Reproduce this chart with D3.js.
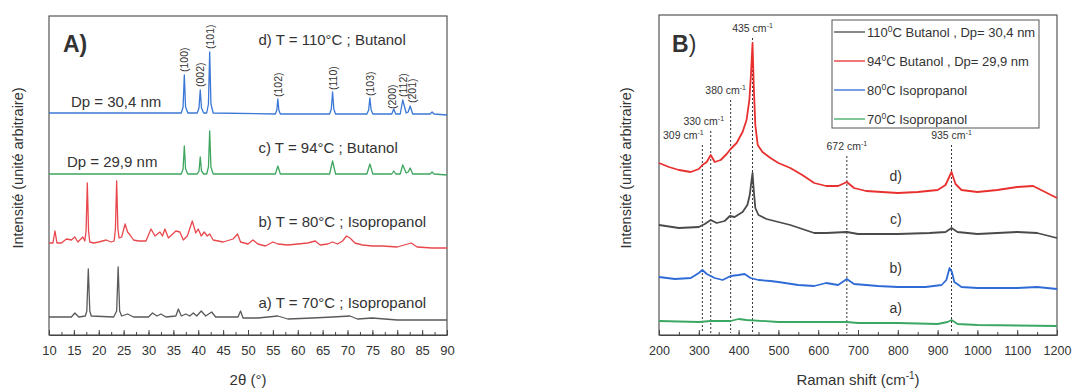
<!DOCTYPE html>
<html>
<head>
<meta charset="utf-8">
<script src="https://cdn.jsdelivr.net/npm/d3@7"></script>
<style>
  body { margin: 0; background: #fff; }
  svg text { font-family: "Liberation Sans", Arial, Helvetica, sans-serif; fill: #333; }
</style>
</head>
<body>
<svg id="chart" width="1072" height="388"></svg>
<script>
// ---------- Panel A : XRD patterns (2theta in degrees, intensity in a.u.) ----------
const xrdA = [[10,18],[14.5,18],[15.2,22],[16,18],[17.3,19],[17.6,24],[17.9,66],[18.2,24],[18.5,19],[23.0,18],[23.6,24],[23.9,68],[24.2,24],[24.6,19],
  [25.8,21],[27,18],[30,18],[30.8,22],[31.7,19],[32.5,21],[33.5,18],[35.5,19],[36,26],[36.6,19],[37.5,21],[38.3,19],[39,22],[39.7,19],
  [40.6,24],[41.5,19],[42.7,23],[43.5,18],[48,18],[48.5,24],[49,17],[52,17],[56,19],[58,16],[63,17],[67,18],[70.5,19],[72,16],[75,17],[80,15],[90,15]];
const xrdB = [[10,92],[10.8,92],[11.2,104],[11.6,92],[12.5,92],[13.5,96],[14.5,95],[15.2,98],[15.8,93],[16.8,98],[17.2,94],[17.45,104],[17.7,152],[17.95,104],[18.2,93],
  [19,92],[20,93],[21.5,95],[22.5,93],[23.1,94],[23.35,106],[23.6,154],[23.85,106],[24.1,97],[24.6,98],[25.3,111],[25.8,103],[26.3,100],[27,95],[28,94],[29.5,94],
  [30.5,106],[31.3,99],[32.3,103],[32.8,99],[33.3,106],[34,97],[35.5,104],[36.3,103],[37,95],[37.8,99],[38.8,114],[39.5,102],[40,106],[40.6,99],
  [41.2,103],[41.8,99],[42.3,101],[43,95],[45,93],[47,96],[47.9,101],[48.5,93],[50,91],[51,95],[52,91],[53.5,89],[55,93],[56,91],[58,90],[60,91],
  [62,92],[63.5,94],[64.5,90],[66,91],[67,93],[68,91],[69,94],[69.8,99],[70.5,97],[71.5,92],[73,90],[75,89],[77,89],[80,88],[82.8,92],[84,88],[87,87],[90,87]];
const xrdC = [[10,161],[36.6,161],[36.95,166],[37.2,189],[37.45,166],[37.9,161],[39.8,161],[40.15,164],[40.4,178],[40.65,164],[41.1,161],[41.7,161],[42.05,168],[42.3,204],[42.55,168],[43.0,161],
  [55.5,161],[56,169],[56.5,161],[66.4,161],[67,174],[67.6,161],[73.9,161],[74.5,171],[75.1,161],[78.9,161],[79.3,164],[79.7,161],[80.6,161],[81.1,170],[81.8,162],
  [82.2,163],[82.6,167],[83.1,161],[86.6,161],[87,163],[87.4,161],[90,160]];
const xrdD = [[10,222],[36.6,222],[36.95,228],[37.2,260],[37.45,228],[37.9,222],[39.8,222],[40.15,227],[40.4,245],[40.65,227],[41.1,222],[41.7,222],[42.05,231],[42.3,283],[42.55,231],[43.0,222],
  [55.5,221],[55.8,225],[56,236],[56.2,225],[56.5,221],[66.4,221],[66.75,226],[67,243],[67.25,226],[67.6,221],[73.9,221],[74.25,225],[74.5,237],[74.75,225],[75.1,221],
  [78.9,221],[79.3,226],[79.7,221],[80.6,221],[81.1,235],[81.8,222],[82.2,223],[82.6,229],[83.1,221],[86.6,221],[87,223],[87.4,221],[90,220]];

const xrdSeries = [
  { name: "a", data: xrdA, color: "#5a5a5a" },
  { name: "b", data: xrdB, color: "#e8474c" },
  { name: "c", data: xrdC, color: "#3ea65f" },
  { name: "d", data: xrdD, color: "#3b78d6" }
];
const xrdTicks = [10, 15, 20, 25, 30, 35, 40, 45, 50, 55, 60, 65, 70, 75, 80, 85, 90];

// hkl labels: peak position, bottom of label (a.u.)
const hklLabels = ["(100)", "(002)", "(101)", "(102)", "(110)", "(103)", "(200)", "(112)", "(201)"];
const hklPos = [37.2, 40.4, 42.3, 56, 67, 74.5, 79.0, 81.2, 83.0];
const hklBase = [263, 248, 286, 238, 245, 239, 226, 238, 232];

const xrdTexts = [
  { t: "d) T = 110°C ; Butanol", x: 52.1, y: 290 },
  { t: "Dp = 30,4 nm", x: 14.4, y: 228 },
  { t: "c) T = 94°C ; Butanol", x: 52.1, y: 182 },
  { t: "Dp = 29,9 nm", x: 13.6, y: 168 },
  { t: "b) T = 80°C ; Isopropanol", x: 52.1, y: 108 },
  { t: "a) T = 70°C ; Isopropanol", x: 52.1, y: 27 }
];

// ---------- Panel B : Raman spectra (cm-1, intensity in a.u.) ----------
const ramanD = [[200,172],[225,168],[250,165],[280,163],[300,166],[309,170],[320,173],[330,180],[340,173],[355,175],[370,181],[380,186],[395,192],[410,203],
  [420,215],[427,235],[431,260],[435,292],[438,250],[442,210],[448,190],[460,183],[480,177],[500,172],[530,167],[560,160],[590,152],[620,149],[650,149],
  [672,153],[690,147],[720,144],[760,143],[800,142],[850,143],[900,145],[920,150],[935,163],[945,151],[960,145],[1000,143],[1050,145],[1100,148],[1140,149],[1170,143],[1200,137]];
const ramanC = [[200,110],[250,107],[300,108],[315,111],[330,115],[345,112],[365,114],[378,119],[390,118],[410,123],[422,130],[428,140],[432,153],[435,162],
  [438,145],[442,127],[450,120],[470,116],[500,113],[530,110],[560,106],[590,102],[620,102],[672,103],[700,101],[800,101],[880,102],[920,103],[935,107],
  [950,103],[1000,101],[1050,102],[1100,103],[1150,102],[1200,97]];
const ramanB = [[200,58],[240,56],[280,57],[300,62],[309,65],[320,61],[340,57],[360,55],[380,59],[400,60],[415,61],[430,57],[450,55],[480,54],[500,53],
  [550,50],[590,49],[620,52],[650,50],[672,56],[690,51],[750,49],[800,48],[870,48],[910,50],[922,55],[930,67],[936,63],[942,53],[960,48],[1000,47],[1100,47],[1150,48],[1200,46]];
const ramanA = [[200,14],[300,13],[330,14],[380,14],[400,16],[420,15],[500,13],[600,13],[672,13],[700,12],[800,12],[900,11],[925,13],[935,15],[950,11],[1000,10],[1200,9]];

const ramanSeries = [
  { name: "a)", data: ramanA, color: "#3aa862", legend: "70", tail: "C Isopropanol", labelY: 22 },
  { name: "b)", data: ramanB, color: "#2f6bd6", legend: "80", tail: "C Isopropanol", labelY: 62 },
  { name: "c)", data: ramanC, color: "#4a4a4a", legend: "110", tail: "C Butanol , Dp= 30,4 nm", labelY: 111 },
  { name: "d)", data: ramanD, color: "#e8302f", legend: "94", tail: "C Butanol , Dp= 29,9 nm", labelY: 154 }
];
const legendOrder = ["c)", "d)", "b)", "a)"];
const ramanTicks = [200, 300, 400, 500, 600, 700, 800, 900, 1000, 1100, 1200];

// Raman band annotations: position, label height (a.u.)
const bandPos = [309, 330, 380, 435, 672, 935];
const bandLabelY = [196, 210, 241, 303, 185, 196];
const bandLabelDx = [-19, -7, -5, 0, 0, 0];

// ---------- layout ----------
const svg = d3.select("#chart");
const panelA = { left: 49, right: 447, top: 16, bottom: 335 };
const panelB = { left: 659, right: 1057, top: 15, bottom: 335 };

const xA = d3.scaleLinear().domain([10, 90]).range([panelA.left, panelA.right]);
const yA = d3.scaleLinear().domain([0, 319]).range([panelA.bottom, panelA.top]);
const xB = d3.scaleLinear().domain([200, 1200]).range([panelB.left, panelB.right]);
const yB = d3.scaleLinear().domain([0, 320]).range([panelB.bottom, panelB.top]);

function drawFrame(p) {
  svg.append("rect")
    .attr("x", p.left).attr("y", p.top)
    .attr("width", p.right - p.left).attr("height", p.bottom - p.top)
    .attr("fill", "none").attr("stroke", "#555").attr("stroke-width", 1.2);
}

function drawXAxis(x, p, ticks, minorStep, fontSize) {
  const minor = d3.range(x.domain()[0], x.domain()[1] + 0.001, minorStep);
  svg.append("g")
    .attr("transform", `translate(0,${p.bottom})`)
    .call(d3.axisBottom(x).tickValues(minor).tickSize(-3).tickFormat(""))
    .call(g => g.select(".domain").remove())
    .selectAll("line").attr("stroke", "#444");
  const g = svg.append("g")
    .attr("transform", `translate(0,${p.bottom})`)
    .call(d3.axisBottom(x).tickValues(ticks).tickFormat(d3.format("d"))
      .tickSizeInner(-5).tickSizeOuter(0).tickPadding(11));
  g.select(".domain").attr("stroke", "#444").attr("stroke-width", 1.2);
  g.selectAll("line").attr("stroke", "#444");
  g.selectAll("text").style("font-size", fontSize + "px").attr("fill", "#333");
  return g;
}

function drawYTitle(x, y) {
  svg.append("text")
    .attr("transform", `translate(${x},${y}) rotate(-90)`)
    .attr("text-anchor", "middle")
    .style("font-size", "14.5px")
    .text("Intensité (unité arbitraire)");
}

// ---------- Panel A ----------
drawFrame(panelA);
drawXAxis(xA, panelA, xrdTicks, 2.5, 13);
drawYTitle(23, 168);
svg.append("text").attr("x", 248).attr("y", 385).attr("text-anchor", "middle")
  .style("font-size", "15px").text("2θ (°)");

const lineA = d3.line().x(d => xA(d[0])).y(d => yA(d[1]));
svg.selectAll(".xrd")
  .data(xrdSeries)
  .enter().append("path")
  .attr("class", "xrd")
  .attr("d", d => lineA(d.data))
  .attr("fill", "none")
  .attr("stroke", d => d.color)
  .attr("stroke-width", 1.3)
  .attr("stroke-linejoin", "round");

svg.selectAll(".hkl")
  .data(hklLabels)
  .enter().append("text")
  .attr("class", "hkl")
  .attr("transform", (d, i) => `translate(${xA(hklPos[i]) + 4},${yA(hklBase[i])}) rotate(-90)`)
  .style("font-size", "10.5px")
  .text(d => d);

svg.selectAll(".xrdtext")
  .data(xrdTexts)
  .enter().append("text")
  .attr("class", "xrdtext")
  .attr("x", d => xA(d.x)).attr("y", d => yA(d.y))
  .style("font-size", "15px")
  .text(d => d.t);

svg.append("text").attr("x", 63).attr("y", 52)
  .style("font-size", "23px").style("font-weight", "bold").attr("fill", "#111").text("A)");

// ---------- Panel B ----------
drawFrame(panelB);
drawXAxis(xB, panelB, ramanTicks, 50, 12.5);
drawYTitle(631, 168);
const titleB = svg.append("text").attr("x", 858).attr("y", 385).attr("text-anchor", "middle")
  .style("font-size", "15px");
titleB.append("tspan").text("Raman shift (cm");
titleB.append("tspan").attr("dy", -6).style("font-size", "10px").text("-1");
titleB.append("tspan").attr("dy", 6).text(")");

// dotted band markers
svg.selectAll(".band")
  .data(bandPos)
  .enter().append("line")
  .attr("class", "band")
  .attr("x1", d => xB(d)).attr("x2", d => xB(d))
  .attr("y1", (d, i) => yB(bandLabelY[i]) + 6)
  .attr("y2", panelB.bottom - 2)
  .attr("stroke", "#333").attr("stroke-width", 1).attr("stroke-dasharray", "2,2");

const bandText = svg.selectAll(".bandtext")
  .data(bandPos)
  .enter().append("text")
  .attr("class", "bandtext")
  .attr("x", (d, i) => xB(d) + bandLabelDx[i])
  .attr("y", (d, i) => yB(bandLabelY[i]))
  .attr("text-anchor", "middle")
  .style("font-size", "10.5px");
bandText.append("tspan").text(d => d + " cm");
bandText.append("tspan").attr("dy", -4).style("font-size", "7px").text("-1");

const lineB = d3.line().x(d => xB(d[0])).y(d => yB(d[1]));
svg.selectAll(".raman")
  .data(ramanSeries)
  .enter().append("path")
  .attr("class", "raman")
  .attr("d", d => lineB(d.data))
  .attr("fill", "none")
  .attr("stroke", d => d.color)
  .attr("stroke-width", 1.8)
  .attr("stroke-linejoin", "round");

svg.selectAll(".ramanlabel")
  .data(ramanSeries)
  .enter().append("text")
  .attr("class", "ramanlabel")
  .attr("x", xB(795)).attr("y", d => yB(d.labelY))
  .attr("text-anchor", "middle")
  .style("font-size", "14px")
  .text(d => d.name);

svg.append("text").attr("x", 672).attr("y", 52)
  .style("font-size", "23px").attr("fill", "#111")
  .call(t => t.append("tspan").style("font-weight", "bold").text("B"))
  .call(t => t.append("tspan").text(")"));

// legend
const legend = svg.append("g").attr("transform", "translate(832,20)");
legend.append("rect").attr("width", 207).attr("height", 108)
  .attr("fill", "#fff").attr("stroke", "#555").attr("stroke-width", 1);
legendOrder.forEach((name, i) => {
  const s = ramanSeries.find(r => r.name === name);
  const y = 12 + i * 29;
  legend.append("line").attr("x1", 2).attr("x2", 33).attr("y1", y).attr("y2", y)
    .attr("stroke", s.color).attr("stroke-width", 1.3);
  const t = legend.append("text").attr("x", 35).attr("y", y + 4.5).style("font-size", "13px");
  t.append("tspan").text(s.legend);
  t.append("tspan").attr("dy", -5).style("font-size", "8.5px").text("0");
  t.append("tspan").attr("dy", 5).text(s.tail);
});
</script>
</body>
</html>
